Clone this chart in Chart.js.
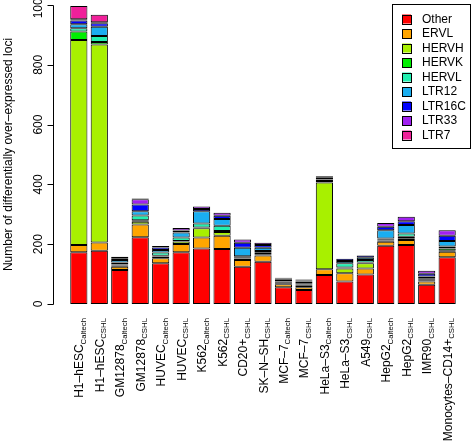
<!DOCTYPE html>
<html>
<head>
<meta charset="utf-8">
<script src="https://cdn.jsdelivr.net/npm/chart.js@4.4.0/dist/chart.umd.min.js"></script>
<style>
  body { margin: 0; background: #fff; }
  #wrap { width: 471px; height: 442px; }
</style>
</head>
<body>
<div id="wrap"><canvas id="chart" width="471" height="442"></canvas></div>
<script>
// sample names and their lab subscript
const cellLines = ['H1–hESC', 'H1–hESC', 'GM12878', 'GM12878', 'HUVEC', 'HUVEC', 'K562', 'K562',
    'CD20+', 'SK–N–SH', 'MCF–7', 'MCF–7', 'HeLa–S3', 'HeLa–S3', 'A549', 'HepG2', 'HepG2',
    'IMR90', 'Monocytes–CD14+'];
const labs = ['Caltech', 'CSHL', 'Caltech', 'CSHL', 'Caltech', 'CSHL', 'Caltech', 'CSHL',
    'CSHL', 'CSHL', 'Caltech', 'CSHL', 'Caltech', 'CSHL', 'CSHL', 'Caltech', 'CSHL',
    'CSHL', 'CSHL'];

const seriesNames = ['Other', 'ERVL', 'HERVH', 'HERVK', 'HERVL', 'LTR12', 'LTR16C', 'LTR33', 'LTR7'];
const seriesColors = ['#FF0000', '#FFA500', '#A8F000', '#00EE00', '#20F0B0', '#1AAEF0', '#0000FF', '#A020F0', '#F0209A'];

// stacked counts per family
const other  = [173, 178, 114, 223, 136, 173, 186, 184, 125, 141, 56, 47, 97, 75, 99, 195, 197, 64, 156];
const ervl   = [24, 28, 11, 43, 17, 28, 36, 44, 22, 21, 10, 9, 19, 28, 20, 13, 17, 11, 19];
const hervh  = [686, 662, 4, 9, 6, 8, 31, 13, 5, 4, 3, 7, 290, 16, 17, 4, 4, 3, 3];
const hervk  = [28, 8, 3, 5, 2, 2, 3, 3, 3, 5, 2, 2, 2, 3, 3, 3, 7, 5, 8];
const hervl  = [11, 20, 7, 16, 11, 11, 13, 18, 5, 6, 4, 4, 3, 14, 8, 4, 11, 3, 6];
const ltr12  = [14, 31, 8, 14, 9, 17, 41, 22, 28, 11, 6, 6, 5, 8, 8, 28, 28, 6, 19];
const ltr16c = [12, 12, 6, 23, 8, 7, 8, 11, 17, 9, 4, 4, 6, 7, 7, 11, 13, 9, 17];
const ltr33  = [4, 3, 5, 17, 5, 8, 8, 10, 11, 8, 3, 3, 5, 0, 0, 13, 15, 10, 19];
const ltr7   = [45, 25, 0, 3, 0, 0, 0, 0, 0, 0, 0, 0, 0, 0, 0, 0, 0, 0, 0];
const seriesValues = [other, ervl, hervh, hervk, hervl, ltr12, ltr16c, ltr33, ltr7];

const yTicks = [0, 200, 400, 600, 800, 1000];
const yTitle = 'Number of differentially over–expressed loci';

const FONT = '"Liberation Sans", Arial, sans-serif';

// R style axes, labels with subscripts and boxed legend
const rStylePlugin = {
    id: 'rStyle',
    afterDraw(chart) {
        const ctx = chart.ctx;
        const xs = chart.scales.x;
        const ys = chart.scales.y;
        ctx.save();
        ctx.strokeStyle = '#000';
        ctx.fillStyle = '#000';
        ctx.lineWidth = 1;

        // y axis
        const ax = 53.5;
        ctx.beginPath();
        ctx.moveTo(ax, Math.round(ys.getPixelForValue(0)) + 0.5);
        ctx.lineTo(ax, Math.round(ys.getPixelForValue(1000)) + 0.5);
        yTicks.forEach(v => {
            const py = Math.round(ys.getPixelForValue(v)) + 0.5;
            ctx.moveTo(ax, py);
            ctx.lineTo(ax - 6, py);
        });
        ctx.stroke();

        ctx.font = '12px ' + FONT;
        ctx.textAlign = 'center';
        ctx.textBaseline = 'alphabetic';
        yTicks.forEach(v => {
            ctx.save();
            ctx.translate(42, ys.getPixelForValue(v));
            ctx.rotate(-Math.PI / 2);
            ctx.fillText(String(v), 0, 0);
            ctx.restore();
        });

        // y title
        ctx.save();
        ctx.translate(12, (ys.getPixelForValue(0) + ys.getPixelForValue(1000)) / 2);
        ctx.rotate(-Math.PI / 2);
        ctx.fillText(yTitle, 0, 0);
        ctx.restore();

        // x labels, right aligned at y = 318
        ctx.textAlign = 'left';
        cellLines.forEach((name, i) => {
            const cx = xs.getPixelForValue(i);
            ctx.font = '12px ' + FONT;
            const wm = ctx.measureText(name).width;
            ctx.font = '7.8px ' + FONT;
            const ws = ctx.measureText(labs[i]).width;
            ctx.save();
            ctx.translate(cx + 4.5, 318);
            ctx.rotate(-Math.PI / 2);
            ctx.font = '12px ' + FONT;
            ctx.fillText(name, -(wm + ws), 0);
            ctx.font = '7.8px ' + FONT;
            ctx.fillText(labs[i], -ws, 2.5);
            ctx.restore();
        });

        // legend
        ctx.strokeRect(392.5, 4.5, 78, 144);
        ctx.font = '12px ' + FONT;
        ctx.textBaseline = 'middle';
        seriesNames.forEach((n, k) => {
            const ry = 19 + 14.5 * k;
            ctx.fillStyle = seriesColors[k];
            ctx.fillRect(402, ry - 4.5, 9, 9);
            ctx.strokeRect(402.5, Math.round(ry - 4.5) + 0.5, 9, 9);
            ctx.fillStyle = '#000';
            ctx.fillText(n, 422, ry + 0.5);
        });
        ctx.restore();
    }
};

const datasets = seriesNames.map((n, k) => ({
    label: n,
    data: seriesValues[k],
    backgroundColor: seriesColors[k],
    borderColor: '#000',
    borderWidth: 1,
    borderSkipped: false,
    barPercentage: 0.84,
    categoryPercentage: 1
}));

new Chart(document.getElementById('chart').getContext('2d'), {
    type: 'bar',
    data: { labels: cellLines.map((c, i) => c + ' ' + labs[i]), datasets: datasets },
    options: {
        responsive: false,
        animation: false,
        layout: { padding: { left: 68.6, right: 13.6, top: 5, bottom: 138 } },
        scales: {
            x: { stacked: true, display: false },
            y: { stacked: true, display: false, min: 0, max: 1000 }
        },
        plugins: { legend: { display: false }, tooltip: { enabled: false } }
    },
    plugins: [rStylePlugin]
});
</script>
</body>
</html>
